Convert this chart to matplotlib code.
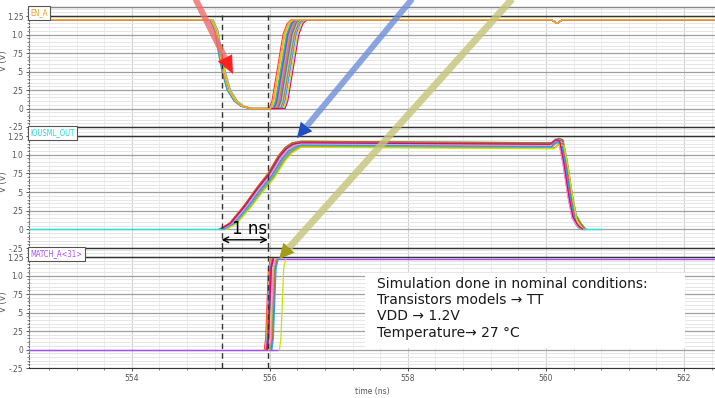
import numpy as np
import matplotlib.pyplot as plt
from matplotlib.ticker import MultipleLocator
from matplotlib.patches import Polygon, Rectangle
from matplotlib.lines import Line2D

W, H = 715, 398
narrow = ['Liberation Sans Narrow', 'DejaVu Sans']

# ---- data (ns, V) ----
x_lo, x_hi = 552.51, 562.45
y_lo, y_hi = -0.25, 1.372
yticks = [-0.25, 0, 0.25, 0.5, 0.75, 1.0, 1.25]
ytick_labels = ['-.25', '0', '.25', '.5', '.75', '1.0', '1.25']
marker_t = [555.30, 555.97]          # dashed cursors, 1 ns apart

run_colors = ['#ff3b3b', '#ff9900', '#ffd11a', '#33cc33', '#00c8c8', '#3366ff', '#9933ff',
              '#ff66cc', '#99cc00', '#ff6a00', '#6699ff', '#cc3399', '#00b3b3', '#ffcc66',
              '#5cc48f', '#cc6600', '#ff99cc', '#3399ff', '#c2e600', '#e60073']

# EN_A : falling edge + per-run rising edge
en_fall_t = [552.40, 555.15, 555.22, 555.28, 555.33, 555.40, 555.50, 555.60, 555.72]
en_fall_v = [1.20, 1.20, 1.05, 0.72, 0.48, 0.25, 0.10, 0.03, 0.00]
en_fall_shift = [0.00, 0.01, -0.01, 0.02, 0.00, 0.01, 0.02, -0.01, 0.00, 0.01,
                 0.03, 0.00, -0.02, 0.01, 0.02, 0.00, 0.01, -0.01, 0.02, 0.00]
en_rise_dt = [0.00, 0.04, 0.20, 0.26, 0.32]
en_rise_v = [0.00, 0.10, 1.00, 1.15, 1.20]
en_rise_start = [555.99, 556.01, 556.02, 556.04, 556.05, 556.06, 556.07, 556.08, 556.09, 556.10,
                 556.11, 556.12, 556.13, 556.14, 556.15, 556.16, 556.17, 556.18, 556.20, 556.22]
en_tail_t = [560.08, 560.16, 560.24, 562.60]
en_tail_v = [1.20, 1.15, 1.20, 1.20]

# IOUSML_OUT : rise, plateau, bump and fall
io_rise_t = [555.30, 555.45, 555.65, 555.85, 556.00, 556.15, 556.25, 556.35]
io_rise_v = [0.00, 0.08, 0.30, 0.55, 0.72, 0.95, 1.06, 1.12]
io_rise_shift = [0.00, -0.03, 0.02, 0.04, -0.02, 0.05, 0.01, -0.04, 0.03, 0.06,
                 0.00, 0.02, -0.01, 0.04, 0.05, -0.03, 0.01, 0.03, 0.07, -0.02]
io_level = [1.13, 1.15, 1.11, 1.12, 1.16, 1.10, 1.14, 1.12, 1.13, 1.09,
            1.15, 1.11, 1.14, 1.12, 1.10, 1.16, 1.13, 1.11, 1.08, 1.14]
io_fall_t = [560.05, 560.13, 560.19, 560.25, 560.32, 560.38, 560.45, 560.52]
io_fall_v = [0.00, 0.06, 0.04, -0.25, -0.68, -0.97, -1.08, -1.12]   # relative to level
io_fall_shift = [0.00, 0.02, 0.04, 0.01, 0.06, 0.03, 0.05, 0.00, 0.02, 0.07,
                 0.01, 0.04, 0.03, 0.06, 0.02, 0.05, 0.00, 0.03, 0.07, 0.01]
io_base_t = [552.40, 555.30, 560.55, 560.80]

# MATCH_A<31> : fast rising edge per run
ma_rise_dt = [0.00, 0.02, 0.06, 0.09]
ma_rise_v = [0.00, 0.15, 1.10, 1.22]
ma_rise_start = [555.92, 555.93, 555.94, 555.95, 555.96, 555.96, 555.97, 555.98, 555.99, 556.00,
                 555.94, 555.95, 555.97, 555.98, 556.01, 556.02, 555.99, 556.03, 556.14, 555.96]

fig = plt.figure(figsize=(W / 100, H / 100), dpi=100)

panels = [(7, 127), (127, 248), (248, 368)]
names = ['EN_A', 'IOUSML_OUT', 'MATCH_A<31>']
name_colors = ['#f0a020', '#22d8d8', '#a64dff']
axes = []
for i, (top, bot) in enumerate(panels):
    ax = fig.add_axes([29 / W, 1 - bot / H, 1 - 29 / W, (bot - top) / H])
    ax.set_xlim(x_lo, x_hi)
    ax.set_ylim(y_lo, y_hi)
    ax.set_yticks(yticks)
    ax.set_yticklabels(ytick_labels, family=narrow, stretch='condensed')
    ax.yaxis.set_minor_locator(MultipleLocator(0.05))
    ax.xaxis.set_major_locator(MultipleLocator(2))
    ax.xaxis.set_minor_locator(MultipleLocator(0.4))
    ax.grid(which='minor', axis='y', color='#e6e6e6', lw=0.7)
    ax.grid(which='major', axis='y', color='#a0a0a0', lw=0.9)
    ax.grid(which='minor', axis='x', color='#ececec', lw=0.7)
    ax.grid(which='major', axis='x', color='#d2d2d2', lw=0.8)
    ax.set_axisbelow(True)
    ax.tick_params(which='both', labelsize=6, colors='#555555', direction='out', pad=1.5)
    ax.tick_params(which='major', length=2.5, width=0.7)
    ax.tick_params(which='minor', length=1.2, width=0.5)
    ax.spines['right'].set_visible(False)
    ax.spines['left'].set_color('#666666')
    ax.spines['left'].set_linestyle(':')
    ax.spines['top'].set_color('#888888' if i == 0 else '#333333')
    ax.spines['top'].set_linewidth(1.0)
    if i < 2:
        ax.spines['bottom'].set_visible(False)
        ax.tick_params(axis='x', which='both', labelbottom=False, length=0)
    else:
        ax.spines['bottom'].set_color('#333333')
        ax.set_xticks([554, 556, 558, 560, 562])
        ax.set_xticklabels(['554', '556', '558', '560', '562'], family=narrow, stretch='condensed')
        ax.set_xlabel('time (ns)', fontsize=5.5, color='#555555', family=narrow, labelpad=3)
    ax.set_ylabel('V (V)', fontsize=6, color='#555555')
    ax.yaxis.set_label_coords(-21 / (W - 29), 0.55)
    ax.text(0.002, 1.29, names[i], transform=ax.get_yaxis_transform(), color=name_colors[i],
            fontsize=5.5, family=narrow, stretch='condensed', va='center', ha='left', zorder=6,
            bbox=dict(facecolor='white', edgecolor='#555555', lw=0.8, boxstyle='square,pad=0.3'))
    axes.append(ax)

fig.canvas.draw()
for ax in axes:
    bb = ax.texts[0].get_window_extent().transformed(ax.transAxes.inverted())
    ax.axhline(1.25, xmin=bb.x1 + 0.004, color='#333333', lw=1.0, zorder=3)

ax1, ax2, ax3 = axes

# EN_A runs
for i, c in enumerate(run_colors):
    tt = [x + en_fall_shift[i] for x in en_fall_t] + [en_rise_start[i] + d for d in en_rise_dt] + en_tail_t
    vv = en_fall_v + en_rise_v + en_tail_v
    ax1.plot(tt, vv, color=c, lw=0.8, zorder=4)
ax1.plot(en_fall_t + [en_rise_start[1] + d for d in en_rise_dt] + en_tail_t,
         en_fall_v + en_rise_v + en_tail_v, color='#ffb020', lw=1.0, zorder=5)

# IOUSML_OUT runs
ax2.plot(io_base_t[:2], [0, 0], color='#22e0e0', lw=1.0, zorder=5)
ax2.plot(io_base_t[2:], [0, 0], color='#22e0e0', lw=1.0, zorder=5)
for i, c in enumerate(run_colors):
    lvl = io_level[i]
    rt = [x + io_rise_shift[i] for x in io_rise_t]
    rv = [v * lvl / io_rise_v[-1] for v in io_rise_v]
    ft = [x + io_fall_shift[i] for x in io_fall_t]
    fv = [lvl + v for v in io_fall_v]
    fv[-1] = 0.0
    ax2.plot(rt + [556.45] + ft, rv + [lvl + 0.02] + fv, color=c, lw=0.9, zorder=4)

# MATCH_A<31> runs
ax3.plot([x_lo - 0.1, 556.1], [0, 0], color='#a64dff', lw=1.0, zorder=3)
ax3.plot([556.0, x_hi + 0.1], [1.22, 1.22], color='#a64dff', lw=1.0, zorder=3)
for i, c in enumerate(run_colors):
    ax3.plot([ma_rise_start[i] + d for d in ma_rise_dt], ma_rise_v, color=c, lw=0.9, zorder=4)

# dashed cursors
for ax, ymax in zip(axes, [0.93, 1.0, 1.0]):
    for m in marker_t:
        ax.axvline(m, ymax=ymax, color='#333333', lw=1.0, ls=(0, (4, 3)), zorder=6)

# 1 ns annotation
ax2.annotate('', xy=(marker_t[0], -0.14), xytext=(marker_t[1], -0.14),
             arrowprops=dict(arrowstyle='<->', color='black', lw=1.0, shrinkA=0, shrinkB=0), zorder=7)
ax2.text((marker_t[0] + marker_t[1]) / 2 + 0.07, -0.11, '1 ns', fontsize=12, ha='center', va='bottom', zorder=7)


def big_arrow(x0, y0, x1, y1, c_shaft, c_head, w, hl, hw):
    p0 = np.array([x0, y0], float)
    p1 = np.array([x1, y1], float)
    d = (p1 - p0) / np.hypot(*(p1 - p0))
    n = np.array([-d[1], d[0]])
    base = p1 - d * hl
    to_fig = lambda p: (p[0] / W, 1 - p[1] / H)
    fig.add_artist(Line2D([p0[0] / W, base[0] / W], [1 - p0[1] / H, 1 - base[1] / H],
                          color=c_shaft, lw=w * 0.72, solid_capstyle='butt', alpha=0.8, zorder=20))
    tri = [to_fig(p1), to_fig(base + n * hw / 2), to_fig(base - n * hw / 2)]
    fig.add_artist(Polygon(tri, closed=True, transform=fig.transFigure, facecolor=c_head,
                           edgecolor='none', zorder=21))


big_arrow(195, -2, 233, 74, '#f06a6a', '#ff1f1f', 6, 18, 16)
big_arrow(413, -2, 297, 138, '#6d8fd8', '#1f4fc0', 6, 15, 15)
big_arrow(513, -2, 279, 259, '#c5c47a', '#a39c1a', 7, 15, 15)

# note box
fig.add_artist(Rectangle((365 / W, 1 - 348 / H), 320 / W, 75 / H, transform=fig.transFigure,
                         facecolor='white', edgecolor='none', zorder=15))
fig.text(377 / W, 1 - 277 / H,
         'Simulation done in nominal conditions:\nTransistors models \u2192 TT\nVDD \u2192 1.2V\nTemperature\u2192 27 \u00b0C',
         fontsize=10, va='top', ha='left', color='#1a1a1a', zorder=16)

fig.savefig('out.png', dpi=100)
